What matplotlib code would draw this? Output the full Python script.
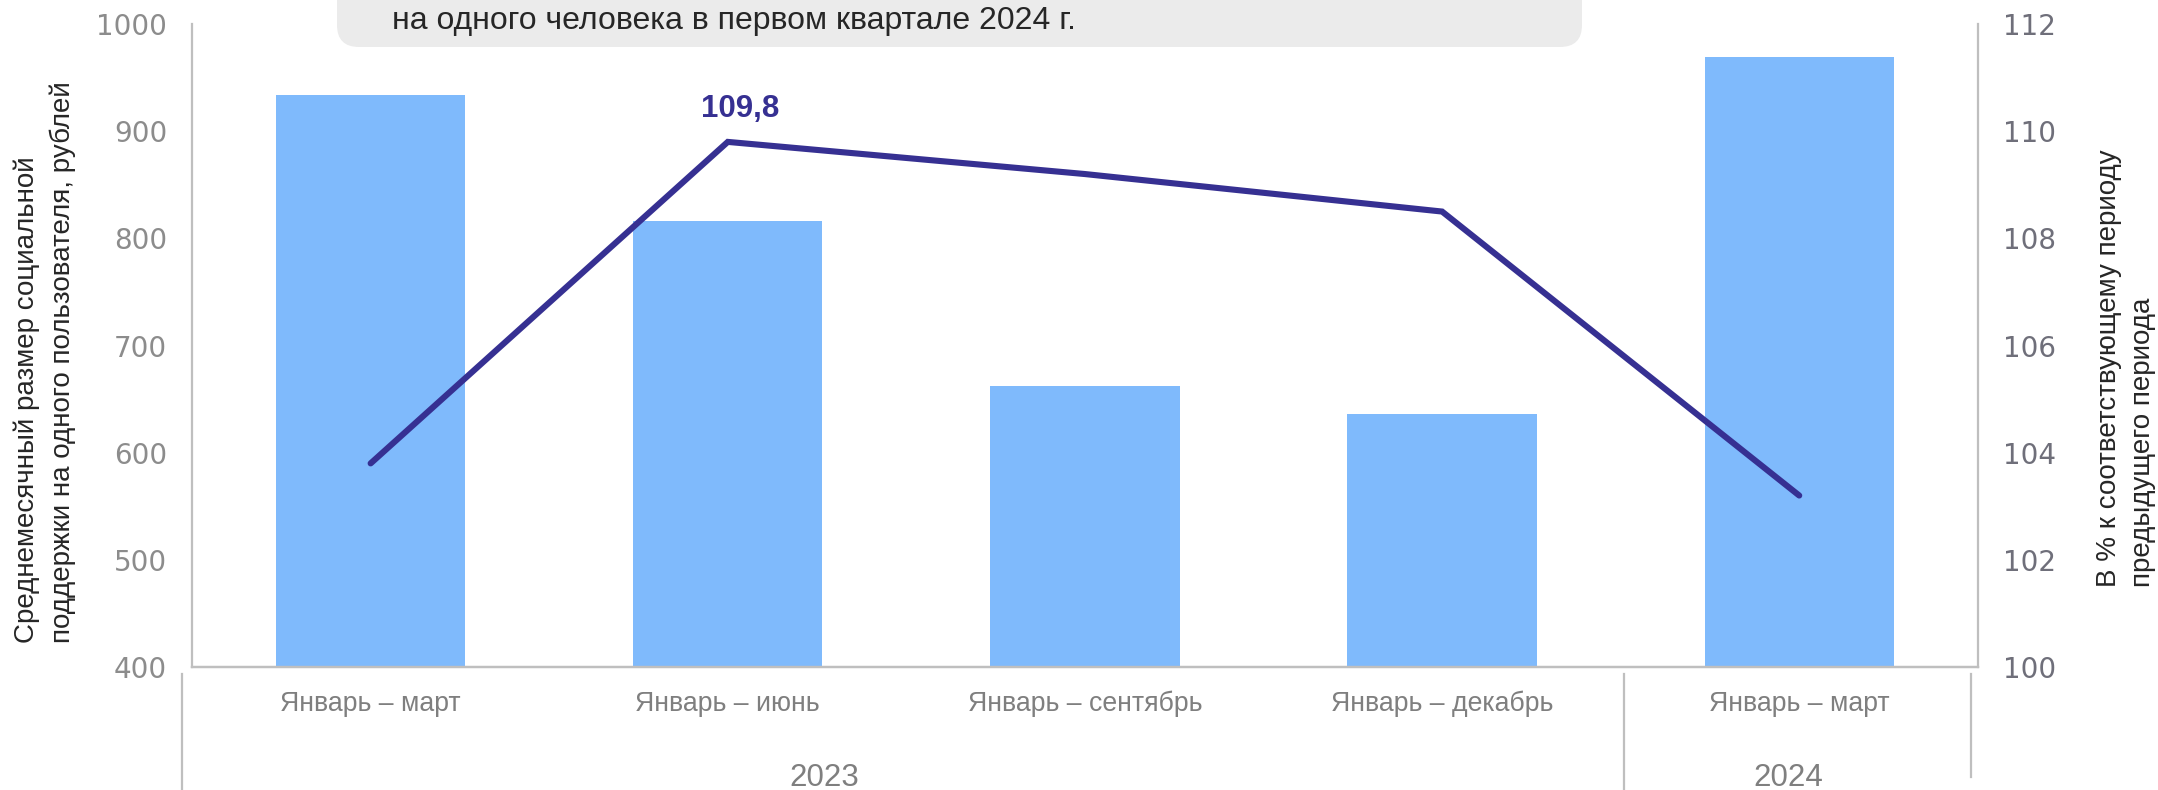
import matplotlib
matplotlib.use("Agg")
import matplotlib.pyplot as plt
from matplotlib.patches import FancyBboxPatch
from matplotlib.transforms import IdentityTransform

# data
periods = ["Январь – март", "Январь – июнь", "Январь – сентябрь", "Январь – декабрь", "Январь – март"]
years = ["2023", "2024"]
avg_rub = [934, 816, 662, 636, 969]
pct_prev = [103.8, 109.8, 109.2, 108.5, 103.2]

bar_color = "#7FBAFC"
line_color = "#363092"
axis_gray = "#BFBFBF"

plt.rcParams["font.family"] = ["Liberation Sans", "DejaVu Sans"]

W, H = 2158, 790
fig = plt.figure(figsize=(W / 100, H / 100), dpi=100)
ax = fig.add_axes([0.089, 0.1557, 0.8275, 0.8139])

x = list(range(len(periods)))
ax.bar(x, avg_rub, width=0.53, color=bar_color, zorder=2)
ax.set_xlim(-0.5, 4.5)
ax.set_ylim(400, 1000)
ax.set_yticks(range(400, 1001, 100))
ax.set_xticks([])

ax2 = ax.twinx()
ax2.plot(x, pct_prev, color=line_color, lw=4.4, solid_capstyle="round",
         solid_joinstyle="miter", zorder=3)
ax2.set_ylim(100, 112)
ax2.set_yticks(range(100, 113, 2))

for a in (ax, ax2):
    a.spines["top"].set_visible(False)
    for s in ("left", "right", "bottom"):
        a.spines[s].set_color(axis_gray)
        a.spines[s].set_linewidth(1.6)
    a.tick_params(length=0)
ax.spines["right"].set_visible(False)
ax2.spines["left"].set_visible(False)

ax.tick_params(axis="y", pad=18, labelsize=20, labelcolor="#8C8C8C")
ax2.tick_params(axis="y", pad=18, labelsize=20, labelcolor="#6F6F7A")
for lab in ax.get_yticklabels() + ax2.get_yticklabels():
    lab.set_family("DejaVu Sans")

# data label
i_max = pct_prev.index(max(pct_prev))
ax2.annotate(f"{pct_prev[i_max]:.1f}".replace(".", ","), (x[i_max], pct_prev[i_max]),
             xytext=(9, 24), textcoords="offset points", ha="center", va="center",
             fontsize=22.5, fontweight="bold", color=line_color)

# two-level category axis
tr = ax.get_xaxis_transform()
for xi, lab in zip(x, periods):
    ax.text(xi, -0.057, lab, transform=tr, ha="center", va="center",
            fontsize=19.2, color="#7F7F7F", clip_on=False)
ax.text(1.27, -0.172, years[0], transform=tr, ha="center", va="center",
        fontsize=22.5, color="#7F7F7F", clip_on=False)
ax.text(3.97, -0.172, years[1], transform=tr, ha="center", va="center",
        fontsize=22.5, color="#7F7F7F", clip_on=False)
for xs, y_end in ((-0.528, -0.20), (3.51, -0.20), (4.48, -0.171)):
    ax.plot([xs, xs], [-0.011, y_end], transform=tr, color=axis_gray, lw=1.6,
            clip_on=False)

# axis titles
fig.text(45 / W, 1 - 362 / H,
         "Среднемесячный размер социальной\nподдержки на одного пользователя, рублей",
         rotation=90, ha="center", va="center", multialignment="left",
         linespacing=1.45, fontsize=20, color="#262626")
fig.text(2126 / W, 1 - 368 / H,
         "В % к соответствующему периоду\nпредыдущего периода",
         rotation=90, ha="center", va="center", multialignment="left",
         linespacing=1.35, fontsize=20, color="#262626")

# header banner (cut off at top)
banner = FancyBboxPatch((337, H - 47), 1582 - 337, 120,
                        boxstyle="round,pad=0,rounding_size=22",
                        transform=IdentityTransform(),
                        facecolor="#EBEBEB", edgecolor="none")
fig.patches.append(banner)
fig.text(392 / W, 1 - 21 / H, "на одного человека в первом квартале 2024 г.",
         fontsize=23, color="#262626", ha="left", va="center")

fig.savefig("out.png", dpi=100)
